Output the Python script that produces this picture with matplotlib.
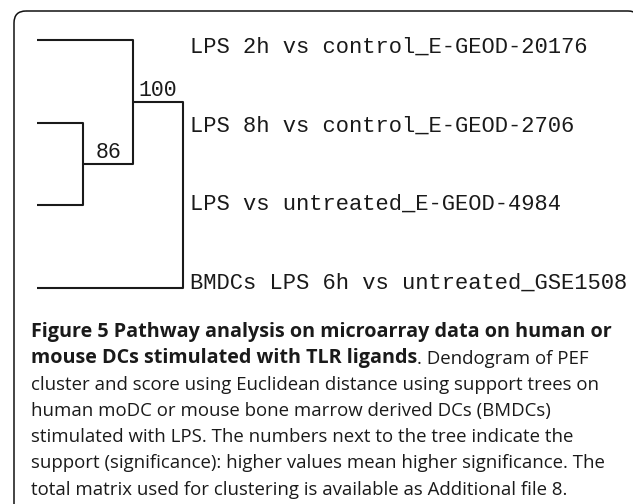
import matplotlib
matplotlib.use("Agg")
import matplotlib.pyplot as plt
from matplotlib.patches import FancyBboxPatch

# leaves, top to bottom
leaf_labels = [
    "LPS 2h vs control_E-GEOD-20176",
    "LPS 8h vs control_E-GEOD-2706",
    "LPS vs untreated_E-GEOD-4984",
    "BMDCs LPS 6h vs untreated_GSE1508",
]
# merges: (child a, child b, height, support); children >= 4 are earlier merges
merge_a = [1, 0, 5]
merge_b = [2, 4, 3]
merge_height = [0.315, 0.658, 1.0]
merge_support = ["86", "100", ""]

caption_bold_1 = "Figure 5 Pathway analysis on microarray data on human or"
caption_bold_2 = "mouse DCs stimulated with TLR ligands"
caption_rest_2 = ". Dendogram of PEF"
caption_lines = [
    "cluster and score using Euclidean distance using support trees on",
    "human moDC or mouse bone marrow derived DCs (BMDCs)",
    "stimulated with LPS. The numbers next to the tree indicate the",
    "support (significance): higher values mean higher significance. The",
    "total matrix used for clustering is available as Additional file 8.",
]

W, H = 633, 504
fig = plt.figure(figsize=(W / 100, H / 100), dpi=100)
fig.patch.set_facecolor("white")

# pixel axes for frame and text
ax = fig.add_axes([0, 0, 1, 1])
ax.set_xlim(0, W)
ax.set_ylim(H, 0)
ax.axis("off")

frame = FancyBboxPatch((14, 11), 626, 600, boxstyle="round,pad=0,rounding_size=12",
                       fill=False, edgecolor="#111111", linewidth=1.1, clip_on=True)
ax.add_patch(frame)

# dendrogram axes: x = distance, y = leaf index
ax_d = fig.add_axes([37 / W, 1 - 288 / H, 146 / W, (288 - 40) / H])
ax_d.set_xlim(0, 1)
ax_d.set_ylim(len(leaf_labels) - 1, 0)
ax_d.axis("off")

line_kw = dict(color="#1a1a1a", linewidth=1.5, solid_capstyle="butt", clip_on=False)
n = len(leaf_labels)
node_x = {i: 0.0 for i in range(n)}
node_y = {i: float(i) for i in range(n)}
parent_h = {}
for k, (a, b) in enumerate(zip(merge_a, merge_b)):
    parent_h[a] = merge_height[k]
    parent_h[b] = merge_height[k]

for k, (a, b, h, s) in enumerate(zip(merge_a, merge_b, merge_height, merge_support)):
    nid = n + k
    ax_d.plot([node_x[a], h, h, node_x[b]], [node_y[a], node_y[a], node_y[b], node_y[b]], **line_kw)
    node_x[nid] = h
    node_y[nid] = (node_y[a] + node_y[b]) / 2
    if s:
        # support label centred on the branch leading to the parent
        xm = (h + parent_h[nid]) / 2
        ax_d.annotate(s, (xm, node_y[nid]), xytext=(0, 1), textcoords="offset pixels",
                      ha="center", va="bottom", fontsize=15.5, family="Liberation Mono",
                      color="#1a1a1a")

for i, lab in enumerate(leaf_labels):
    ax.text(190, 47 + i * 78.7, lab, ha="left", va="center", fontsize=15.9,
            family="Liberation Mono", color="#1a1a1a")

reg_size = 13.45
bold_size = 14.2
cap_kw = dict(family="Open Sans", color="#1a1a1a", va="baseline", ha="left")
x0 = 31
base0 = 337
step = 26.3
ax.text(x0, base0, caption_bold_1, fontweight="bold", fontsize=bold_size, **cap_kw)
t2 = ax.text(x0, base0 + step, caption_bold_2, fontweight="bold", fontsize=bold_size, **cap_kw)
ax.annotate(caption_rest_2, xy=(1, 0), xycoords=t2, xytext=(0, 0), textcoords="offset pixels",
            family="Open Sans", fontsize=reg_size, color="#1a1a1a", ha="left", va="bottom")
for i, line in enumerate(caption_lines):
    ax.text(x0, base0 + (i + 2) * step, line, fontsize=reg_size, **cap_kw)

fig.savefig("out.png", dpi=100)
